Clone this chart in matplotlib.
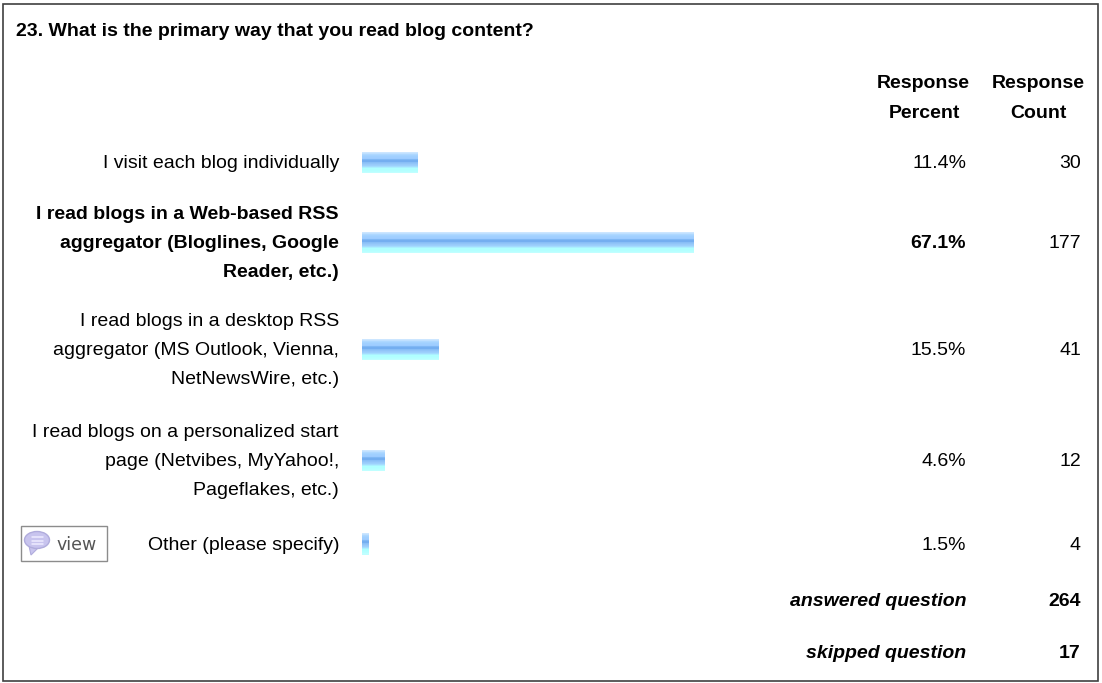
import matplotlib
matplotlib.use("Agg")
import matplotlib.pyplot as plt
from matplotlib.patches import Rectangle, Ellipse, Polygon

plt.rcParams['font.family'] = ['Liberation Sans', 'DejaVu Sans']

# survey data
title = "23. What is the primary way that you read blog content?"
categories = [
    "I visit each blog individually",
    "I read blogs in a Web-based RSS\naggregator (Bloglines, Google\nReader, etc.)",
    "I read blogs in a desktop RSS\naggregator (MS Outlook, Vienna,\nNetNewsWire, etc.)",
    "I read blogs on a personalized start\npage (Netvibes, MyYahoo!,\nPageflakes, etc.)",
    "Other (please specify)",
]
percents = [11.4, 67.1, 15.5, 4.6, 1.5]
counts = [30, 177, 41, 12, 4]
answered = 264
skipped = 17
top_choice = 1

W, H = 1102, 683
fig = plt.figure(figsize=(W / 100, H / 100), dpi=100, facecolor='white')

# whole page axes in pixels, for the texts and the frame
page = fig.add_axes([0, 0, 1, 1])
page.set_xlim(0, W)
page.set_ylim(H, 0)
page.axis('off')

# bar axes, x in percent
bar_left = 362
px_per_pct = 4.95
bars = fig.add_axes([bar_left / W, 0, 100 * px_per_pct / W, 1])
bars.set_xlim(0, 100)
bars.set_ylim(H, 0)
bars.axis('off')
bars.patch.set_alpha(0)

row_y = [162.5, 242.5, 349.5, 460.5, 544]
line_gap = 29
band_colors = ['#cce6ff', '#c0e0ff', '#aed8ff', '#a6d3ff', '#a0d0ff', '#a0ceff', '#9ccbff',
               '#80b8f4', '#74aef0', '#74aef0', '#88bef6', '#90c4f8', '#98cafa', '#9cd0fc',
               '#a4dcfe', '#aaf0ff', '#b0ffff', '#b0ffff', '#b4ffff', '#b8ffff', '#c0ffff']

for pct, y in zip(percents, row_y):
    top = y - len(band_colors) / 2
    for k, c in enumerate(band_colors):
        bars.barh(top + k + 0.5, pct, height=1.02, color=c, linewidth=0)

fs = 14
page.text(16, 31, title, fontsize=fs, fontweight='bold', va='center', ha='left')

# column headers
page.text(970, 83, "Response", fontsize=fs, fontweight='bold', ha='right', va='center')
page.text(960, 113, "Percent", fontsize=fs, fontweight='bold', ha='right', va='center')
page.text(1085, 83, "Response", fontsize=fs, fontweight='bold', ha='right', va='center')
page.text(1067, 113, "Count", fontsize=fs, fontweight='bold', ha='right', va='center')

for i, (cat, y) in enumerate(zip(categories, row_y)):
    weight = 'bold' if i == top_choice else 'normal'
    lines = cat.split("\n")
    for j, line in enumerate(lines):
        page.text(339, y + 1 + (j - (len(lines) - 1) / 2) * line_gap, line, fontsize=fs,
                  fontweight=weight, ha='right', va='center')
    page.text(966, y + 1, f"{percents[i]}%", fontsize=fs, fontweight=weight, ha='right', va='center')
    page.text(1081, y + 1, str(counts[i]), fontsize=fs, ha='right', va='center')

page.text(966, 602, "answered question", fontsize=fs, fontweight='bold', style='italic', ha='right', va='center')
page.text(1081, 602, str(answered), fontsize=fs, fontweight='bold', ha='right', va='center')
page.text(966, 654, "skipped question", fontsize=fs, fontweight='bold', style='italic', ha='right', va='center')
page.text(1081, 654, str(skipped), fontsize=fs, fontweight='bold', ha='right', va='center')

# view button with the speech bubble
page.add_patch(Rectangle((20.5, 525.5), 86, 35, fill=False, edgecolor='#8c8c8c', linewidth=1))
page.add_patch(Polygon([[29, 546], [38, 548], [31, 555]], closed=True, facecolor='#c8c4ee', edgecolor='#b0acdc', linewidth=0.8))
page.add_patch(Ellipse((37, 540), 25, 17, facecolor='#c8c4ee', edgecolor='#b0acdc', linewidth=1))
for dy in (-3, 0.5, 4):
    page.plot([32, 43], [540 + dy, 540 + dy], color='#eeecff', linewidth=1.1, solid_capstyle='round')
page.text(77, 545, "view", fontsize=12.5, family='DejaVu Sans', color='#555555', ha='center', va='center')

# outer frame
page.add_patch(Rectangle((2.5, 3.5), 1095.5, 677, fill=False, edgecolor='#404040', linewidth=1.2))

fig.savefig("out.png", dpi=100, facecolor='white')
